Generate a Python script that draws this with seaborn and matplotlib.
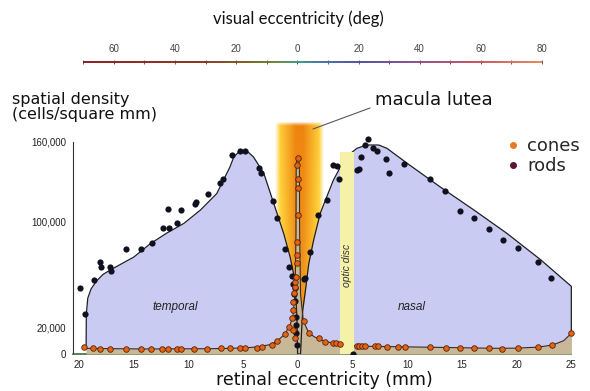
import numpy as np
import matplotlib
matplotlib.use('Agg')
import matplotlib.pyplot as plt
import seaborn as sns
from matplotlib.collections import LineCollection
from matplotlib.colors import LinearSegmentedColormap, to_rgb
from matplotlib.lines import Line2D

# ---- data (densities in thousands of cells / mm^2, eccentricity in mm; temporal side negative)
rod_env_x = [-19.35, -19.33, -19.2, -18.9, -18.4, -17.8, -17.1, -15.0, -13.5, -12.0, -10.4, -8.9, -7.4,
             -6.2, -5.85, -5.25, -4.65, -4.05, -3.1, -2.5, -1.9, -1.3, -0.7, -0.4, -0.22, -0.08, -0.02,
             0.25, 0.35, 0.45, 0.7, 1.0, 1.45, 2.05, 2.65, 3.25, 3.9, 4.65, 5.4, 6.3, 7.4, 8.15, 10.0,
             13.0, 16.1, 19.1, 22.2, 25.0, 25.0]
rod_env_y = [4, 30, 42, 49, 55, 60, 63.5, 73, 83, 91, 98.5, 108.5, 121,
             141, 148.5, 153.5, 153, 148.5, 136, 121, 106, 91, 73, 61, 48, 28, 0,
             0, 18, 33, 48, 68, 86, 106, 118.5, 131, 141, 150, 155, 157.5, 157.5, 155, 143.7,
             126, 108.5, 91, 71, 51, 15.6]

cone_env_x = [-19.35, -17, -14, -11, -8, -6, -4.5, -3.5, -2.6, -1.9, -1.2, -0.75, -0.45, -0.25, -0.17,
              -0.15, -0.1, 0.0, 0.1, 0.15, 0.17, 0.25, 0.5, 1.0, 1.5, 2.0, 2.6, 3.3, 3.9, 5.0, 6.5, 9,
              12, 15, 18, 20, 22, 23.3, 24.3, 25]
cone_env_y = [4.3, 4.0, 3.8, 3.9, 4.0, 4.3, 4.8, 5.5, 7.0, 9.5, 15, 21, 28, 45, 90,
              138, 146, 148, 146, 138, 90, 45, 25, 16, 13, 11, 9.3, 8.1, 7.3, 6.3, 5.8, 5.5,
              5.1, 4.7, 4.3, 4.4, 5.2, 6.8, 10, 15.6]

rods_x = [-19.94, -19.42, -18.6, -18.12, -17.99, -17.14, -17.05, -15.68, -14.33, -13.33, -12.32, -11.9,
          -11.77, -11.04, -10.65, -9.37, -9.33, -8.18, -7.08, -6.84, -6.02, -5.32, -4.80, -3.58, -3.34,
          -2.30, -1.87, -1.21, -0.84, -0.55, -0.47, -0.35, -0.3, -0.25, -0.2, -0.17, -0.13, -0.1,
          0.53, 0.62, 1.14, 1.88, 2.7, 3.22, 3.58, 3.79, 5.04, 5.41, 5.56, 5.80, 6.14, 6.38, 6.87,
          7.24, 8.06, 8.30, 9.74, 12.05, 13.48, 14.79, 16.07, 17.5, 18.72, 20.16, 21.96, 23.17]
rods_y = [49.5, 29.9, 55.8, 69.1, 65.6, 65.8, 62.8, 78.9, 79.1, 83.4, 94.7, 109.5,
          95.2, 98.5, 108.3, 113, 114.8, 120.3, 129.1, 132.1, 150, 153.2, 153.2, 140.4, 136.6,
          115.3, 102.7, 79.1, 65.8, 59, 52.8, 45, 50, 40, 28, 16, 22, 7,
          56.5, 57, 77, 105, 116, 142.4, 141.9, 131.6, 0, 138.6, 139.2, 148.7, 157.5, 161.8, 155.5,
          153.2, 146.6, 136.6, 143.2, 131.6, 123.1, 107.8, 102.7, 94.2, 85.9, 80.1, 69.6, 57.5]

cones_x = [-19.5, -18.7, -18.05, -17.2, -15.7, -14.3, -13.4, -12.4, -11.9, -11.0, -10.7, -9.46, -8.3,
           -7.0, -6.17, -5.32, -4.86, -3.73, -3.27, -2.36, -1.9, -1.14, -0.84, -0.5, -0.45, -0.4, -0.35,
           -0.3, -0.25, -0.2, -0.4, -0.3, -0.1, -0.08, -0.07, -0.02, -0.02, -0.02, -0.03, 0.0,
           0.53, 0.99, 1.91, 2.51, 3.21, 3.52, 3.82, 5.41, 5.62, 5.87, 6.17, 7.08, 7.3, 8.15, 9.12,
           9.82, 12.1, 13.5, 14.85, 16.1, 17.5, 18.7, 20.15, 21.95, 23.2, 25.0]
cones_y = [5.0, 4.2, 3.9, 3.8, 4.0, 3.8, 3.6, 4.0, 3.8, 4.1, 3.5, 3.9, 3.8,
           4.2, 4.3, 4.6, 4.8, 4.6, 5.5, 7.0, 10, 15.1, 20.6, 27, 33, 39.4, 45.7,
           50.7, 54.5, 58.2, 18, 12, 68.3, 74.6, 84.6, 104.7, 124.8, 131.6, 142.4, 147.5,
           25.1, 15.6, 11.8, 9.3, 8.6, 8.1, 7.5, 6.0, 6.0, 6.0, 6.0, 6.0, 5.8, 5.5, 5.5,
           5.5, 5.0, 4.8, 4.8, 4.6, 4.3, 3.8, 4.8, 5.5, 6.8, 15.6]

x_ticks = [-20, -15, -10, -5, 0, 5, 10, 15, 20, 25]
y_ticks = [0, 20, 100, 160]
y_tick_labels = ['0', '20,000', '100,000', '160,000']
deg_ticks = [-60, -40, -20, 0, 20, 40, 60, 80]

macula = (-2.06, 2.33)
optic_disc = (3.84, 5.18)

W, H = 590, 391


def fx(px):
    return px / W


def fy(py):
    return 1 - py / H


sns.set_style('white')
plt.rcParams['font.family'] = ['Liberation Sans', 'DejaVu Sans']
comic = ['DejaVu Sans']

fig = plt.figure(figsize=(W / 100, H / 100), dpi=100)
ax = fig.add_axes([fx(72.7), fy(354), 503 / W, 232.2 / H])

# macula lutea band (orange core, yellow rim)
bx = np.linspace(macula[0], macula[1], 220)
by = np.linspace(0, 175, 200)
u = np.abs((bx - 0.14) / ((macula[1] - macula[0]) / 2))
t = np.clip((u - 0.15) / 0.7, 0, 1)
orange = np.array(to_rgb('#ee8410'))
yellow = np.array(to_rgb('#ffd23c'))
img = np.zeros((len(by), len(bx), 4))
for j, yv in enumerate(by):
    v = 0.3 * (1 - yv / 175)
    tt = np.clip(t + v, 0, 1)
    img[j, :, :3] = orange[None, :] * (1 - tt[:, None]) + yellow[None, :] * tt[:, None]
    a = np.clip((1 - u) / 0.2, 0, 1)
    if yv > 172:
        a = a * (175 - yv) / 3
    img[j, :, 3] = a
ax.imshow(img, extent=[macula[0], macula[1], 0, 175], origin='lower', aspect='auto',
          zorder=1, interpolation='bilinear')

# rods (blue) and cones (tan) envelopes
ax.fill_between(rod_env_x, 0, rod_env_y, color='#cacbf2', zorder=2, lw=0)
ax.fill_between(cone_env_x, 0, cone_env_y, color='#c8b898', zorder=3, lw=0)
sns.lineplot(x=rod_env_x, y=rod_env_y, sort=False, estimator=None, ax=ax, color='#1e1e24', lw=0.9, zorder=4)
sns.lineplot(x=cone_env_x, y=cone_env_y, sort=False, estimator=None, ax=ax, color='#3a2a22', lw=0.8, zorder=4)

# optic disc
ax.axvspan(optic_disc[0], optic_disc[1], ymin=0, ymax=152 / 175, color='#f6f1a8', zorder=5, lw=0)
ax.text(sum(optic_disc) / 2, 67, 'optic disc', rotation=90, ha='center', va='center',
        fontsize=7.5, style='italic', color='#333333', zorder=7)

# data points
sns.scatterplot(x=rods_x, y=rods_y, ax=ax, color='#10101e', s=20, linewidth=0, zorder=6)
sns.scatterplot(x=cones_x, y=cones_y, ax=ax, color='#e0641a', edgecolor='#5a2200', s=16,
                linewidth=0.6, zorder=6)

ax.text(-11.2, 35.7, 'temporal', ha='center', va='center', fontsize=8.5, style='italic', color='#222222')
ax.text(10.4, 35.7, 'nasal', ha='center', va='center', fontsize=8.5, style='italic', color='#222222')

ax.set_xlim(-20.576, 25.4)
ax.set_ylim(0, 175)
ax.set_xticks(x_ticks)
ax.set_xticklabels([str(abs(v)) for v in x_ticks])
ax.set_yticks(y_ticks)
ax.set_yticklabels(y_tick_labels)
ax.tick_params(labelsize=7, length=2.5, width=0.6, pad=2, colors='#222222')
for s in ['top', 'right']:
    ax.spines[s].set_visible(False)
ax.spines['left'].set_bounds(0, 160)
ax.spines['left'].set_color('#333333')
ax.spines['left'].set_linewidth(0.8)
ax.spines['bottom'].set_color('#3b6b3b')
ax.spines['bottom'].set_linewidth(1.2)
ax.spines['bottom'].set_bounds(-20.576, 25)
ax.set_xlabel('')
ax.set_ylabel('')

# top axis: visual eccentricity
ax2 = fig.add_axes([fx(83.3), fy(62), 458.7 / W, 0.0001])
ax2.set_xlim(-70, 80)
ax2.set_ylim(0, 1)
cmap = LinearSegmentedColormap.from_list('ecc', [
    (0.0, '#8b1e1e'), (0.25, '#8b341e'), (0.36, '#7a6222'), (0.43, '#6a8a44'),
    (0.467, '#3c9a8c'), (0.53, '#4a6aa8'), (0.6, '#5050a0'), (0.72, '#8a5090'),
    (0.85, '#c85060'), (1.0, '#e48a5a')])
dx = np.linspace(-70, 80, 300)
segs = [[(dx[i], 0), (dx[i + 1], 0)] for i in range(len(dx) - 1)]
lc = LineCollection(segs, colors=cmap((dx[:-1] + 70) / 150), linewidths=1.4, clip_on=False)
ax2.add_collection(lc)
for s in ax2.spines.values():
    s.set_visible(False)
ax2.set_yticks([])
ax2.xaxis.tick_top()
ax2.set_xticks(deg_ticks)
ax2.set_xticklabels([str(abs(v)) for v in deg_ticks])
ax2.set_xticks(np.arange(-70, 81, 20), minor=True)
ax2.tick_params(axis='x', which='both', direction='inout', length=3, width=0.6, colors='#444444',
                labelsize=7, pad=4)

# figure texts
fig.text(fx(298), fy(19), 'visual eccentricity (deg)', ha='center', va='center', fontsize=12,
         family=['Lato', 'DejaVu Sans'], color='#111111')
fig.text(fx(12), fy(107), 'spatial density\n(cells/square mm)', ha='left', va='center',
         fontsize=11.5, family=comic, linespacing=0.95, color='#111111')
fig.text(fx(375), fy(100), 'macula lutea', ha='left', va='center', fontsize=13, family=comic,
         color='#111111')
fig.add_artist(Line2D([fx(313), fx(370)], [fy(129), fy(108)], color='#555566', lw=0.8))
fig.text(fx(324), fy(380), 'retinal eccentricity (mm)', ha='center', va='center', fontsize=12.5,
         family=comic, color='#111111')

handles = [Line2D([], [], ls='', marker='o', ms=4, color='#e8782a', label='cones'),
           Line2D([], [], ls='', marker='o', ms=4, color='#5a1530', label='rods')]
fig.legend(handles=handles, loc='upper left', bbox_to_anchor=(fx(495), fy(128)), frameon=False,
           prop={'family': comic, 'size': 13}, handletextpad=0.3, labelspacing=0.1,
           handlelength=1.0, borderpad=0)

fig.savefig('out.png', dpi=100)
